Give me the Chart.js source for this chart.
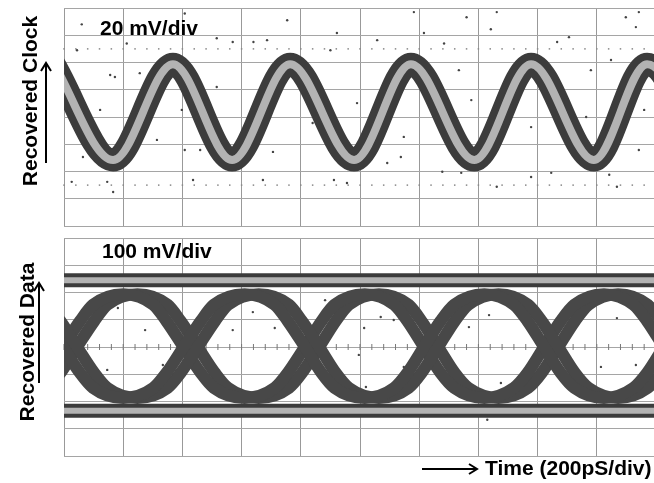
<!DOCTYPE html>
<html>
<head>
<meta charset="utf-8">
<script src="https://cdn.jsdelivr.net/npm/chart.js@4.4.0/dist/chart.umd.min.js"></script>
<style>
  html, body { margin: 0; padding: 0; background: #fff; width: 654px; height: 483px; overflow: hidden; }
  canvas { position: absolute; left: 0; }
  #clock-chart { top: 0; }
  #data-chart { top: 230px; }
  svg { position: absolute; left: 0; top: 0; }
  text { font-family: "Liberation Sans", Arial, sans-serif; font-weight: bold; fill: #000; }
</style>
</head>
<body>
<canvas id="clock-chart" width="660" height="232"></canvas>
<canvas id="data-chart" width="660" height="232"></canvas>
<svg width="654" height="483">
  <text x="100" y="35" font-size="21">20 mV/div</text>
  <text x="102" y="258" font-size="21">100 mV/div</text>
  <text transform="translate(37,101) rotate(-90)" text-anchor="middle" font-size="21">Recovered Clock</text>
  <text transform="translate(34,342) rotate(-90)" text-anchor="middle" font-size="21">Recovered Data</text>
  <text x="485" y="475" font-size="21">Time (200pS/div)</text>
  <g stroke="#000" stroke-width="2" fill="none">
    <path d="M46 163 V64 M41 71 L46 63 L51 71"/>
    <path d="M39 383 V284 M34 291 L39 283 L44 291"/>
    <path d="M422 469 H476 M469 464 L477 469 L469 474"/>
  </g>
</svg>
<script>
// x in divisions (200 pS/div), y in divisions of the vertical scale

// Recovered clock: peaks and troughs of the sine trace
const clockX = [-0.17, 0.83, 1.84, 2.84, 3.82, 4.90, 5.86, 6.93, 7.89, 8.95, 9.85, 10.86];
const clockY = [1.94, -1.58, 1.94, -1.58, 1.94, -1.58, 1.94, -1.58, 1.94, -1.58, 1.94, -1.58];

// stray samples around the clock trace
const clockDotsX = [0.3, 2.04, 1.06, 0.22, 0.78, 0.86, 0.61, 0.32, 0.13, 0.83, 0.73, 1.57, 2.04, 2.3, 2.58, 2.85, 3.2, 3.43, 3.77, 3.2, 3.53, 3.36, 2.18, 1.99, 1.28, 2.58, 4.2, 4.5,
  5.91, 6.8, 7.31, 7.21, 6.08, 5.29, 6.42, 6.67, 6.88, 7.55, 8.33, 8.53, 8.9, 9.24, 9.49, 9.71, 9.66, 9.8, 9.71, 9.34, 9.21, 8.23, 7.89, 7.31, 6.71, 6.39, 5.69, 5.74, 5.46, 4.56, 4.78, 4.95, 4.61, 7.89, 8.82];
const clockDotsY = [3.4, 3.8, 2.7, 2.45, 1.54, 1.47, 0.26, -1.47, -2.38, -2.75, -2.38, -0.84, -1.21, -1.21, 2.89, 2.75, 2.75, 2.82, 3.55, -1.21, -1.28, -2.31, -2.31, 0.26, 1.61, 1.1, -0.22, 2.45,
  3.85, 3.66, 3.85, 3.22, 3.08, 2.82, 2.7, 1.72, 0.62, 0.51, 2.75, 2.93, 1.72, 2.09, 3.66, 3.85, 3.3, 0.26, -1.21, -2.56, -2.12, -2.05, -2.2, -2.56, -2.05, -2.01, -1.47, -0.73, -1.69, -2.31, -2.42, 0.51, 3.08, -0.37, 0];

// Recovered data: eye diagram, two complementary traces through the crossings
const eyeX = [-1.93, -0.93, -0.41, -0.18, 0.10,
  0.39, 0.61, 1.12, 1.63, 1.85, 2.14,
  2.43, 2.65, 3.17, 3.68, 3.90, 4.19,
  4.47, 4.69, 5.20, 5.70, 5.92, 6.20,
  6.48, 6.71, 7.22, 7.72, 7.95, 8.23,
  8.51, 8.74, 9.24, 9.74, 9.97, 10.25];
const eyeTraceA = [0, 1.94, 1.55, 0.95, 0,
  -0.95, -1.5, -1.87, -1.5, -0.95, 0,
  0.95, 1.55, 1.94, 1.55, 0.95, 0,
  -0.95, -1.5, -1.87, -1.5, -0.95, 0,
  0.95, 1.55, 1.94, 1.55, 0.95, 0,
  -0.95, -1.5, -1.87, -1.5, -0.95, 0];
const eyeTraceB = [0, -1.87, -1.5, -0.95, 0,
  0.95, 1.55, 1.94, 1.55, 0.95, 0,
  -0.95, -1.5, -1.87, -1.5, -0.95, 0,
  0.95, 1.55, 1.94, 1.55, 0.95, 0,
  -0.95, -1.5, -1.87, -1.5, -0.95, 0,
  0.95, 1.55, 1.94, 1.55, 0.95, 0];
// half spread of the crossings (timing jitter), divisions
const eyeJitter = 0.12;

// logic one / zero rails
const railX = [-0.2, 10.2];
const topRailY = 2.45;
const bottomRailY = -2.34;

// stray samples inside the eye
const dataDotsX = [0.91, 1.37, 1.67, 0.73, 3.19, 3.56, 2.85, 3.87, 4.41, 5.35, 5.07, 4.98, 5.57, 7.18, 6.84, 7.38, 7.47, 7.15, 9.34, 9.66, 9.07, 5.74, 5.1];
const dataDotsY = [1.43, 0.62, -0.66, -0.84, 1.28, 0.7, 0.62, -0.37, 1.72, 1.1, 0.7, -0.29, 0.99, 1.17, 0.73, -1.32, -1.58, -2.67, 1.06, -0.66, -0.73, -0.73, -1.47];

const toPoints = (xs, ys, shift = 0) => xs.map((x, i) => ({ x: x + shift, y: Array.isArray(ys) ? ys[i] : ys }));

const dark = '#3c3c3c';
const light = '#b3b3b3';
const eyeColor = '#484848';

function trace(points, width, color) {
  return {
    data: points,
    showLine: true,
    borderColor: color,
    borderWidth: width,
    borderCapStyle: 'round',
    borderJoinStyle: 'round',
    cubicInterpolationMode: 'monotone',
    pointRadius: 0,
    clip: 0
  };
}

function dots(points) {
  return {
    data: points,
    showLine: false,
    pointRadius: 1.2,
    pointBorderWidth: 0,
    pointBackgroundColor: '#444',
    clip: 0
  };
}

// small graticule marks drawn from the scales
const graticuleMarks = {
  id: 'graticuleMarks',
  beforeDatasetsDraw(chart, args, opts) {
    const ctx = chart.ctx;
    const xs = chart.scales.x;
    const ys = chart.scales.y;
    ctx.save();
    ctx.fillStyle = '#888';
    ctx.strokeStyle = '#777';
    ctx.lineWidth = 1;
    for (let v = 0; v <= 10; v += 0.2) {
      const px = xs.getPixelForValue(v);
      (opts.dotRows || []).forEach(r => {
        ctx.fillRect(px - 0.75, ys.getPixelForValue(r) - 0.75, 1.5, 1.5);
      });
      if (opts.centerTicks) {
        const py = ys.getPixelForValue(0);
        ctx.beginPath();
        ctx.moveTo(px, py - 3);
        ctx.lineTo(px, py + 3);
        ctx.stroke();
      }
    }
    ctx.restore();
  }
};

function scopeOptions(marks) {
  return {
    responsive: false,
    animation: false,
    layout: { padding: { left: 64, top: 8, right: 4, bottom: 6 } },
    plugins: {
      legend: { display: false },
      tooltip: { enabled: false },
      graticuleMarks: marks
    },
    scales: {
      x: {
        type: 'linear',
        min: 0,
        max: 10,
        ticks: { display: false, stepSize: 1 },
        grid: { color: '#999', lineWidth: 1, drawTicks: false },
        border: { display: false }
      },
      y: {
        type: 'linear',
        min: -4,
        max: 4,
        ticks: { display: false, stepSize: 1 },
        grid: { color: '#a5a5a5', lineWidth: 1, drawTicks: false },
        border: { display: false }
      }
    }
  };
}

// Creating chart for recovered clock
const clockChart = document.getElementById('clock-chart');
new Chart(clockChart, {
  type: 'scatter',
  data: {
    datasets: [
      trace(toPoints(clockX, clockY), 8, light),
      trace(toPoints(clockX, clockY), 23, dark),
      dots(toPoints(clockDotsX, clockDotsY))
    ]
  },
  options: scopeOptions({ dotRows: [2.5, -2.5], centerTicks: false }),
  plugins: [graticuleMarks]
});

// Creating chart for recovered data
const dataChart = document.getElementById('data-chart');
new Chart(dataChart, {
  type: 'scatter',
  data: {
    datasets: [
      trace(toPoints(railX, topRailY), 6, light),
      trace(toPoints(railX, bottomRailY), 6, light),
      trace(toPoints(railX, topRailY), 14, dark),
      trace(toPoints(railX, bottomRailY), 14, dark),
      trace(toPoints(eyeX, eyeTraceA, -eyeJitter), 12, eyeColor),
      trace(toPoints(eyeX, eyeTraceA, eyeJitter), 12, eyeColor),
      trace(toPoints(eyeX, eyeTraceB, -eyeJitter), 12, eyeColor),
      trace(toPoints(eyeX, eyeTraceB, eyeJitter), 12, eyeColor),
      dots(toPoints(dataDotsX, dataDotsY))
    ]
  },
  options: scopeOptions({ dotRows: [], centerTicks: true }),
  plugins: [graticuleMarks]
});
</script>
</body>
</html>
